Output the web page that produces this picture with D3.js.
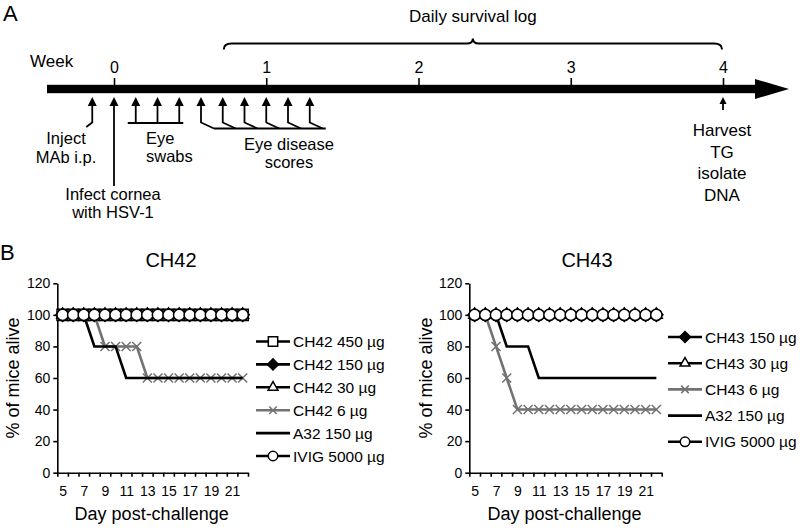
<!DOCTYPE html>
<html>
<head>
<meta charset="utf-8">
<script src="https://cdn.jsdelivr.net/npm/d3@7"></script>
<style>
body { margin: 0; background: #fff; }
svg { display: block; font-family: "Liberation Sans", Arial, Helvetica, sans-serif; }
</style>
</head>
<body>
<svg width="800" height="528"></svg>
<script>
// ---- panel A timeline (days after infection) ----
const weekTicks = [0, 1, 2, 3, 4];
const injectDay = -1;
const infectDay = 0;
const swabDays = [1, 2, 3];
const scoreDays = [4, 5, 6, 7, 8, 9];
const survivalRange = [5, 28];
const harvestDay = 28;

// ---- panel B survival data ----
const days = [5, 6, 7, 8, 9, 10, 11, 12, 13, 14, 15, 16, 17, 18, 19, 20, 21, 22];
const dayLabels = [5, 7, 9, 11, 13, 15, 17, 19, 21];
const yTicks = [0, 20, 40, 60, 80, 100, 120];

const ch42_450 = [100, 100, 100, 100, 100, 100, 100, 100, 100, 100, 100, 100, 100, 100, 100, 100, 100, 100];
const ch42_150 = [100, 100, 100, 100, 100, 100, 100, 100, 100, 100, 100, 100, 100, 100, 100, 100, 100, 100];
const ch42_30 = [100, 100, 100, 100, 100, 100, 100, 100, 100, 100, 100, 100, 100, 100, 100, 100, 100, 100];
const ch42_6 = [100, 100, 100, 100, 80, 80, 80, 80, 60, 60, 60, 60, 60, 60, 60, 60, 60, 60];
const a32_ch42 = [100, 100, 100, 80, 80, 80, 60, 60, 60, 60, 60, 60, 60, 60, 60, 60, 60, 60];
const ivig_ch42 = [100, 100, 100, 100, 100, 100, 100, 100, 100, 100, 100, 100, 100, 100, 100, 100, 100, 100];

const ch43_150 = [100, 100, 100, 100, 100, 100, 100, 100, 100, 100, 100, 100, 100, 100, 100, 100, 100, 100];
const ch43_30 = [100, 100, 100, 100, 100, 100, 100, 100, 100, 100, 100, 100, 100, 100, 100, 100, 100, 100];
const ch43_6 = [100, 100, 80, 60, 40, 40, 40, 40, 40, 40, 40, 40, 40, 40, 40, 40, 40, 40];
const a32_ch43 = [100, 100, 100, 80, 80, 80, 60, 60, 60, 60, 60, 60, 60, 60, 60, 60, 60, 60];
const ivig_ch43 = [100, 100, 100, 100, 100, 100, 100, 100, 100, 100, 100, 100, 100, 100, 100, 100, 100, 100];

const ch42Names = ["CH42 450 µg", "CH42 150 µg", "CH42 30 µg", "CH42 6 µg", "A32 150 µg", "IVIG 5000 µg"];
const ch43Names = ["CH43 150 µg", "CH43 30 µg", "CH43 6 µg", "A32 150 µg", "IVIG 5000 µg"];

let svg = d3.select("svg");
const gray = "#727272";

// ================= Panel A =================
let tx = d3.scaleLinear().domain([0, 28]).range([114, 723]);
let wx = d3.scaleLinear().domain([0, 4]).range([114, 723]);
const barY = 89;

svg.append("text").attr("x", 3).attr("y", 21).style("font-size", "22px").text("A");

let gA = svg.append("g");

gA.append("rect")
	.attr("x", 47).attr("y", barY - 4.2)
	.attr("width", 710).attr("height", 8.4)
	.attr("fill", "#000");
gA.append("path")
	.attr("d", "M755," + (barY - 10) + "L789," + barY + "L755," + (barY + 10) + "Z")
	.attr("fill", "#000");

let weekAxis = gA.append("g")
	.attr("transform", "translate(0," + (barY - 4) + ")")
	.call(d3.axisTop(wx).tickValues(weekTicks).tickSize(7).tickPadding(5).tickFormat(d3.format("d")));
weekAxis.select(".domain").remove();
weekAxis.selectAll("line").attr("stroke-width", 1.6);
weekAxis.selectAll("text").style("font-size", "16px").attr("font-family", null);

gA.append("text").attr("x", 30).attr("y", 67).style("font-size", "17px").text("Week");

// bracket for daily survival log
(function () {
	let x0 = tx(survivalRange[0]) + 1, x1 = tx(survivalRange[1]) - 1;
	let mid = (x0 + x1) / 2, yb = 43.5;
	let p = d3.path();
	p.moveTo(x0, yb + 6);
	p.quadraticCurveTo(x0, yb, x0 + 8, yb);
	p.lineTo(mid - 6, yb);
	p.quadraticCurveTo(mid, yb, mid, yb - 5);
	p.quadraticCurveTo(mid, yb, mid + 6, yb);
	p.lineTo(x1 - 8, yb);
	p.quadraticCurveTo(x1, yb, x1, yb + 6);
	gA.append("path").attr("d", p.toString())
		.attr("fill", "none").attr("stroke", "#000").attr("stroke-width", 2);
	gA.append("text").attr("x", mid).attr("y", 22)
		.attr("text-anchor", "middle").style("font-size", "17px").text("Daily survival log");
})();

const tipY = barY + 8;
function upArrow(x, stemEnd, hw, hh) {
	gA.append("path")
		.attr("d", "M" + x + "," + tipY + "L" + (x - hw) + "," + (tipY + hh) + "L" + (x + hw) + "," + (tipY + hh) + "Z")
		.attr("fill", "#000");
	gA.append("line")
		.attr("x1", x).attr("x2", x)
		.attr("y1", tipY + hh - 1).attr("y2", stemEnd)
		.attr("stroke", "#000").attr("stroke-width", 1.8);
}
function seg(x1, y1, x2, y2) {
	gA.append("line")
		.attr("x1", x1).attr("y1", y1).attr("x2", x2).attr("y2", y2)
		.attr("stroke", "#000").attr("stroke-width", 1.8);
}
function label(x, y, lines, step, size, anchor) {
	lines.forEach(function (s, i) {
		gA.append("text")
			.attr("x", x).attr("y", y + i * step)
			.attr("text-anchor", anchor || "middle")
			.style("font-size", size + "px")
			.text(s);
	});
}

// inject MAb
upArrow(tx(injectDay), 123, 4.5, 9);
seg(tx(injectDay), 122.5, tx(injectDay) - 6, 127);
label(66, 144, ["Inject", "MAb i.p."], 19, 16.5);

// infect cornea
upArrow(tx(infectDay), 186, 4.5, 9);
label(113, 200, ["Infect cornea", "with HSV-1"], 18, 16.5);

// eye swabs
swabDays.forEach(function (d) { upArrow(tx(d), 123, 4.5, 9); });
seg(tx(swabDays[0]) - 8, 123, tx(swabDays[swabDays.length - 1]) + 4, 123);
label(146, 144, ["Eye", "swabs"], 18, 16.5, "start");

// eye disease scores
scoreDays.forEach(function (d) {
	upArrow(tx(d), 123, 4.5, 9);
	seg(tx(d), 122.5, tx(d) + 13, 128.5);
});
seg(tx(scoreDays[0]) + 13, 128.5, tx(scoreDays[scoreDays.length - 1]) + 16, 128.5);
label(289, 150, ["Eye disease", "scores"], 18, 16.5);

// harvest
upArrow(tx(harvestDay), 110, 3.5, 7);
label(tx(harvestDay) - 1, 136, ["Harvest", "TG", "isolate", "DNA"], 21.5, 17);

// ================= Panel B =================
svg.append("text").attr("x", 0).attr("y", 260).style("font-size", "22px").text("B");

const markerSym = {
	square: { type: d3.symbolSquare, size: 125 },
	diamond: { type: d3.symbolDiamond2 || d3.symbolDiamond, size: 110 },
	triangle: { type: d3.symbolTriangle, size: 60 },
	cross: { type: d3.symbolTimes || d3.symbolX, size: 55 },
	circle: { type: d3.symbolCircle, size: 100 }
};

function drawChart(cfg) {
	let g = svg.append("g");
	let x = d3.scaleLinear().domain([4.5, 22.5]).range([cfg.left, cfg.right]);
	let y = d3.scaleLinear().domain([0, 120]).range([472.7, 283.3]);

	// axes
	let xa = g.append("g").attr("transform", "translate(0," + y(0) + ")")
		.call(d3.axisBottom(x).tickValues(d3.range(4.5, 23, 1)).tickSize(4).tickSizeOuter(0).tickFormat(""));
	let xl = g.append("g").attr("transform", "translate(0," + y(0) + ")")
		.call(d3.axisBottom(x).tickValues(dayLabels).tickSize(0).tickPadding(13));
	xl.select(".domain").remove();
	let ya = g.append("g").attr("transform", "translate(" + x(4.5) + ",0)")
		.call(d3.axisLeft(y).tickValues(yTicks).tickSize(4).tickSizeOuter(0).tickPadding(3));
	[xa, xl, ya].forEach(function (a) {
		a.selectAll("path, line").attr("stroke-width", 1.6);
		a.selectAll("text").attr("font-family", null).style("font-size", "14px").attr("fill", "#000");
	});

	let line = d3.line()
		.x(function (d, i) { return x(days[i]); })
		.y(function (d) { return y(d); });

	cfg.series.forEach(function (vals, k) {
		let st = cfg.styles[k];
		let sg = g.append("g");
		sg.append("path").attr("d", line(vals))
			.attr("fill", "none").attr("stroke", st.color).attr("stroke-width", 2.6)
			.attr("stroke-linejoin", "miter");
		if (st.marker) {
			let m = markerSym[st.marker];
			sg.selectAll("path.mk").data(vals).enter().append("path")
				.attr("class", "mk")
				.attr("d", d3.symbol().type(m.type).size(m.size))
				.attr("transform", function (d, i) { return "translate(" + x(days[i]) + "," + y(d) + ")"; })
				.attr("fill", st.fill)
				.attr("stroke", st.color)
				.attr("stroke-width", 1.5);
		}
	});

	// titles
	g.append("text").attr("x", cfg.titleX).attr("y", 267)
		.attr("text-anchor", "middle").style("font-size", "20px").text(cfg.title);
	g.append("text").attr("x", (cfg.left + cfg.right) / 2 - 1).attr("y", 520)
		.attr("text-anchor", "middle").style("font-size", "18px").text("Day post-challenge");
	g.append("text").attr("transform", "translate(" + cfg.yTitleX + ",378) rotate(-90)")
		.attr("text-anchor", "middle").style("font-size", "18px").text("% of mice alive");

	// legend
	cfg.names.forEach(function (name, k) {
		let st = cfg.styles[k];
		let ly = cfg.legendY + k * cfg.legendStep;
		let lg = g.append("g").attr("transform", "translate(" + cfg.legendX + "," + ly + ")");
		lg.append("line").attr("x1", 0).attr("x2", 34).attr("y1", 0).attr("y2", 0)
			.attr("stroke", st.color).attr("stroke-width", 2.6);
		if (st.marker) {
			let m = markerSym[st.marker];
			lg.append("path")
				.attr("d", d3.symbol().type(m.type).size(m.size * 0.7))
				.attr("transform", "translate(17,0)")
				.attr("fill", st.fill).attr("stroke", st.color).attr("stroke-width", 1.5);
		}
		lg.append("text").attr("x", 37).attr("y", 5.5)
			.style("font-size", "15.5px").text(name);
	});
}

const sSquare = { marker: "square", color: "#000", fill: "#fff" };
const sDiamond = { marker: "diamond", color: "#000", fill: "#000" };
const sTriangle = { marker: "triangle", color: "#000", fill: "#fff" };
const sCross = { marker: "cross", color: gray, fill: "none" };
const sPlain = { marker: null, color: "#000", fill: "none" };
const sCircle = { marker: "circle", color: "#000", fill: "#fff" };

drawChart({
	left: 57.3, right: 248, title: "CH42", titleX: 171, yTitleX: 19,
	series: [ch42_450, ch42_150, ch42_30, ch42_6, a32_ch42, ivig_ch42],
	styles: [sSquare, sDiamond, sTriangle, sCross, sPlain, sCircle],
	names: ch42Names,
	legendX: 256, legendY: 341.5, legendStep: 22.9
});

drawChart({
	left: 469.3, right: 661.7, title: "CH43", titleX: 587, yTitleX: 432,
	series: [ch43_150, ch43_30, ch43_6, a32_ch43, ivig_ch43],
	styles: [sDiamond, sTriangle, sCross, sPlain, sCircle],
	names: ch43Names,
	legendX: 668, legendY: 337, legendStep: 26.2
});
</script>
</body>
</html>
